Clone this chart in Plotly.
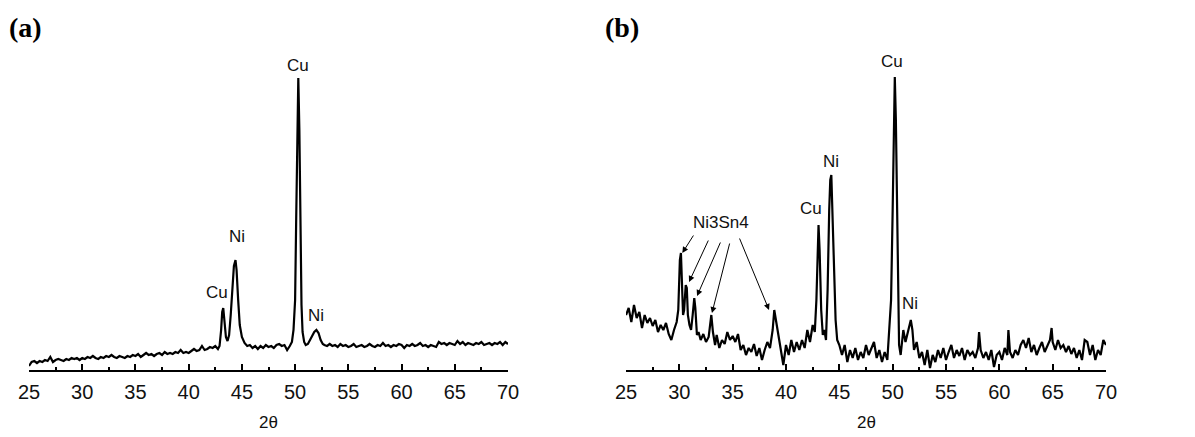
import plotly.graph_objects as go

# ---------------- Panel (a) data ----------------
two_theta_a = [
    25.0, 25.25, 25.5, 25.75, 26.0, 26.25, 26.5, 26.75, 27.0, 27.25, 27.5, 27.75,
    28.0, 28.25, 28.5, 28.75, 29.0, 29.25, 29.5, 29.75, 30.0, 30.25, 30.5, 30.75,
    31.0, 31.25, 31.5, 31.75, 32.0, 32.25, 32.5, 32.75, 33.0, 33.25, 33.5, 33.75,
    34.0, 34.25, 34.5, 34.75, 35.0, 35.25, 35.5, 35.75, 36.0, 36.25, 36.5, 36.75,
    37.0, 37.25, 37.5, 37.75, 38.0, 38.25, 38.5, 38.75, 39.0, 39.25, 39.5, 39.75,
    40.0, 40.25, 40.5, 40.75, 41.0, 41.25, 41.5, 41.75, 42.0, 42.25, 42.5, 42.75,
    42.9, 43.05, 43.15, 43.25, 43.35, 43.5, 43.65, 43.8, 43.95, 44.1, 44.25, 44.4,
    44.5, 44.65, 44.8, 45.0, 45.25, 45.5,
    45.75, 46.0, 46.25, 46.5, 46.75, 47.0, 47.25, 47.5, 47.75, 48.0, 48.25, 48.5,
    48.75, 49.0, 49.25, 49.5,
    49.7, 49.85, 50.0, 50.1, 50.2, 50.3, 50.4, 50.5, 50.6, 50.7, 50.85, 51.0,
    51.2, 51.4, 51.6, 51.8, 52.0, 52.2, 52.4, 52.6,
    52.75, 53.0, 53.25, 53.5, 53.75, 54.0, 54.25, 54.5, 54.75, 55.0, 55.25, 55.5,
    55.75, 56.0, 56.25, 56.5, 56.75, 57.0, 57.25, 57.5, 57.75, 58.0, 58.25, 58.5,
    58.75, 59.0, 59.25, 59.5, 59.75, 60.0, 60.25, 60.5, 60.75, 61.0, 61.25, 61.5,
    61.75, 62.0, 62.25, 62.5, 62.75, 63.0, 63.25, 63.5, 63.75, 64.0, 64.25, 64.5,
    64.75, 65.0, 65.25, 65.5, 65.75, 66.0, 66.25, 66.5, 66.75, 67.0, 67.25, 67.5,
    67.75, 68.0, 68.25, 68.5, 68.75, 69.0, 69.25, 69.5, 69.75, 70.0,
]
intensity_a = [
    4, 8, 9, 7, 9, 8, 10, 9, 13, 8, 10, 11,
    10, 9, 11, 10, 12, 11, 12, 10, 12, 11, 13, 12,
    14, 12, 11, 13, 12, 14, 13, 15, 13, 12, 14, 13,
    12, 14, 13, 15, 14, 16, 13, 15, 17, 15, 16, 14,
    16, 17, 15, 18, 16, 17, 16, 18, 17, 20, 17, 18,
    17, 19, 21, 19, 20, 24, 20, 21, 23, 22, 24, 21,
    24, 40, 58, 62, 48, 33, 29, 35, 55, 85, 104, 110,
    100, 70, 45, 33, 27, 24,
    25, 22, 24, 21, 24, 22, 25, 23, 24, 22, 25, 26,
    24, 25, 20, 24,
    28, 40, 70, 150, 250, 292, 240, 140, 65, 38, 28, 25,
    26, 30, 34, 38, 40, 37, 30, 26,
    25, 24, 26, 24, 25, 23, 26, 24, 25, 23, 24, 26,
    23, 24, 25, 23, 24, 26, 24, 23, 25, 24, 27, 24,
    25, 23, 25, 24, 26, 25, 22, 25, 24, 26, 24, 25,
    27, 24, 25, 23, 25, 24, 23, 28, 26, 27, 25, 27,
    26, 25, 29, 26, 28, 25, 27, 26, 25, 27, 26, 28,
    25, 26, 27, 25, 27, 26, 28, 25, 28, 26,
]

# ---------------- Panel (b) data ----------------
two_theta_b = [
    25.0, 25.25, 25.5, 25.75, 26.0, 26.25, 26.5, 26.75, 27.0, 27.25, 27.5, 27.75,
    28.0, 28.25, 28.5, 28.75, 29.0, 29.25, 29.5, 29.75,
    29.9, 30.05, 30.15, 30.25, 30.35, 30.45, 30.6, 30.7, 30.8, 30.95, 31.1, 31.25,
    31.4, 31.5, 31.65, 31.8, 32.0, 32.25, 32.5, 32.75, 32.9, 33.0, 33.15, 33.35,
    33.5, 33.75, 34.0, 34.25, 34.5, 34.75, 35.0, 35.25, 35.5, 35.75, 36.0, 36.25,
    36.5, 36.75, 37.0, 37.25, 37.5, 37.75, 38.0, 38.25, 38.5, 38.75, 38.9, 39.05,
    39.25, 39.5, 39.75, 40.0, 40.25, 40.5, 40.75, 41.0, 41.25, 41.5, 41.75, 42.0,
    42.25, 42.5, 42.7, 42.85, 42.95, 43.05, 43.15, 43.3, 43.45, 43.6, 43.75, 43.9,
    44.05, 44.15, 44.25, 44.35, 44.5, 44.65, 44.8, 45.0, 45.25, 45.5, 45.75, 46.0,
    46.25, 46.5, 46.75, 47.0, 47.25, 47.5, 47.75, 48.0, 48.25, 48.5, 48.75, 49.0,
    49.25, 49.5, 49.7, 49.85, 50.0, 50.1, 50.2, 50.3, 50.4, 50.5, 50.6, 50.75,
    50.9, 51.0, 51.2, 51.4, 51.55, 51.7, 51.85, 52.0, 52.25, 52.5, 52.75, 53.0,
    53.25, 53.5, 53.75, 54.0, 54.25, 54.5, 54.75, 55.0, 55.25, 55.5, 55.75, 56.0,
    56.25, 56.5, 56.75, 57.0, 57.25, 57.5, 57.75, 58.0, 58.1, 58.25, 58.5, 58.75,
    59.0, 59.25, 59.5, 59.75, 60.0, 60.25, 60.5, 60.75, 60.85, 61.0, 61.25, 61.5,
    61.75, 62.0, 62.25, 62.5, 62.75, 63.0, 63.25, 63.5, 63.75, 64.0, 64.25, 64.5,
    64.75, 64.9, 65.0, 65.25, 65.5, 65.75, 66.0, 66.25, 66.5, 66.75, 67.0, 67.25,
    67.5, 67.75, 68.0, 68.25, 68.5, 68.75, 69.0, 69.25, 69.5, 69.75, 70.0,
]
intensity_b = [
    55, 62, 48, 65, 52, 58, 42, 55, 47, 52, 44, 50,
    38, 45, 40, 47, 36, 30, 40, 48,
    60, 110, 117, 85, 55, 60, 85, 82, 55, 45, 40, 55,
    72, 62, 35, 38, 30, 36, 28, 33, 45, 55, 38, 25,
    35, 22, 30, 26, 38, 30, 34, 28, 36, 20, 25, 15,
    22, 18, 26, 14, 22, 10, 20, 28, 22, 40, 60, 50,
    35, 20, 5, 25, 15, 30, 18, 28, 20, 30, 22, 40,
    28, 45, 38, 70, 125, 145, 120, 60, 35, 40, 30, 80,
    160, 190, 195, 160, 100, 50, 30, 25, 15, 25, 8, 20,
    12, 22, 10, 18, 12, 25, 15, 22, 28, 12, 20, 8,
    18, 10, 40, 70, 160, 260, 293, 250, 160, 60, 25, 15,
    30, 40, 28, 38, 45, 50, 40, 20, 28, 12, 18, 5,
    20, 2, 15, 8, 20, 12, 22, 10, 18, 25, 12, 20,
    14, 22, 10, 20, 15, 18, 12, 22, 38, 20, 12, 18,
    10, 20, 3, 15, 18, 10, 22, 15, 40, 18, 12, 20,
    15, 25, 30, 22, 32, 18, 25, 15, 22, 28, 18, 25,
    30, 42, 28, 20, 30, 22, 25, 18, 24, 16, 22, 12,
    20, 10, 30, 28, 15, 25, 10, 20, 15, 30, 25,
]

# ---------------- Tick labels ----------------
tick_values = [25, 30, 35, 40, 45, 50, 55, 60, 65, 70]
tick_text = ["25", "30", "35", "40", "45", "50", "55", "60", "65", "70"]

# ---------------- Peak labels ----------------
peak_labels_a = ["Cu", "Ni", "Cu", "Ni"]
peak_label_x_a = [50.27, 44.54, 42.66, 51.96]
peak_label_y_a = [305, 134, 78, 55]

peak_labels_b = ["Cu", "Ni", "Cu", "Ni", "Ni3Sn4"]
peak_label_x_b = [49.94, 44.22, 42.34, 51.63, 33.91]
peak_label_y_b = [309, 209, 162, 67, 148]

# Ni3Sn4 arrows: tip (peak) and tail (label) positions
arrow_tip_x = [30.28, 30.91, 31.66, 33.06, 38.41]
arrow_tip_y = [117, 88, 74, 57, 60]
arrow_tail_x = [31.41, 32.78, 33.91, 34.75, 35.59]
arrow_tail_y = [136, 131, 129, 128, 133]

# The page body adds an 8 px offset; the figure is sized/placed to compensate.
OFF = 8
W, H = 1195 - OFF, 437 - OFF
FONT = "Arial, Liberation Sans, sans-serif"


def px(xpix):
    return (xpix - OFF) / W


def py(ypix):
    return (H - (ypix - OFF)) / H


fig = go.Figure()
fig.add_trace(go.Scatter(x=two_theta_a, y=intensity_a, mode="lines",
                         line=dict(color="black", width=2.2), xaxis="x", yaxis="y",
                         showlegend=False, hoverinfo="skip"))
fig.add_trace(go.Scatter(x=two_theta_b, y=intensity_b, mode="lines",
                         line=dict(color="black", width=2.2), xaxis="x2", yaxis="y2",
                         showlegend=False, hoverinfo="skip"))


def xaxis_style(domain, anchor):
    return dict(domain=domain, range=[25, 70], showline=True, linewidth=2,
                linecolor="black", ticks="inside", ticklen=6, tickwidth=1.5,
                tickcolor="black", tickvals=tick_values, ticktext=tick_text,
                minor=dict(dtick=2.5, tick0=25, ticks="inside", ticklen=3,
                           tickwidth=1.5, tickcolor="black"),
                tickfont=dict(family=FONT, size=20, color="#111"),
                showgrid=False, zeroline=False, fixedrange=True,
                anchor=anchor, ticklabelstandoff=3, automargin=False)


def yaxis_style(anchor):
    return dict(domain=[py(370), 1], range=[0, 370 - OFF], visible=False,
                showgrid=False, zeroline=False, anchor=anchor, automargin=False)


annotations = []
for t, x, y in zip(peak_labels_a, peak_label_x_a, peak_label_y_a):
    annotations.append(dict(text=t, x=x, y=y, xref="x", yref="y", showarrow=False,
                            xanchor="center", yanchor="middle",
                            font=dict(family=FONT, size=17, color="#111")))
for t, x, y in zip(peak_labels_b, peak_label_x_b, peak_label_y_b):
    annotations.append(dict(text=t, x=x, y=y, xref="x2", yref="y2", showarrow=False,
                            xanchor="center", yanchor="middle",
                            font=dict(family=FONT, size=17, color="#111")))
for tx, ty, sx, sy in zip(arrow_tip_x, arrow_tip_y, arrow_tail_x, arrow_tail_y):
    annotations.append(dict(text="", x=tx, y=ty, xref="x2", yref="y2",
                            ax=sx, ay=sy, axref="x2", ayref="y2", showarrow=True,
                            arrowhead=2, arrowsize=1.2, arrowwidth=1,
                            arrowcolor="black", standoff=0, startstandoff=0))

dom_a = [px(29), px(508)]
dom_b = [px(626), px(1106)]
for dom in (dom_a, dom_b):
    annotations.append(dict(text="2θ", x=(dom[0] + dom[1]) / 2, y=py(422),
                            xref="paper", yref="paper", showarrow=False,
                            xanchor="center", yanchor="middle",
                            font=dict(family=FONT, size=17, color="#111")))
for letter, xpix in (("(a)", 7), ("(b)", 603)):
    annotations.append(dict(text=letter, x=px(xpix), y=py(28), xref="paper", yref="paper",
                            xanchor="left", yanchor="middle", showarrow=False,
                            font=dict(family="Times New Roman, Liberation Serif, serif",
                                      size=28, color="black", weight="bold")))

fig.update_layout(
    width=W, height=H, autosize=False,
    margin=dict(l=0, r=0, t=0, b=0, pad=0, autoexpand=False),
    paper_bgcolor="white", plot_bgcolor="white",
    xaxis=xaxis_style(dom_a, "y"), xaxis2=xaxis_style(dom_b, "y2"),
    yaxis=yaxis_style("x"), yaxis2=yaxis_style("x2"),
    annotations=annotations, showlegend=False,
)

fig.write_html("out.html")
